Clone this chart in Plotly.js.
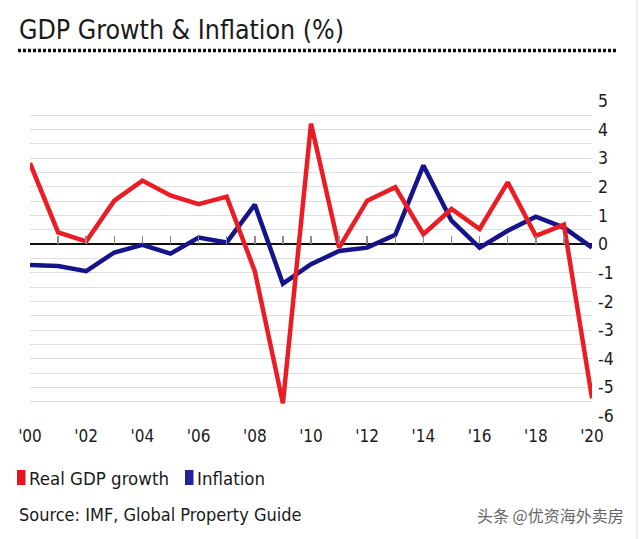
<!DOCTYPE html>
<html>
<head>
<meta charset="utf-8">
<script src="https://cdn.plot.ly/plotly-3.0.1.min.js"></script>
<style>html,body{margin:0;padding:0;background:#fff;}#chart{width:640px;height:539px;}</style>
</head>
<body>
<div id="chart"></div>
<script>
const years = [2000,2001,2002,2003,2004,2005,2006,2007,2008,2009,2010,2011,2012,2013,2014,2015,2016,2017,2018,2019,2020];
const gdpGrowth = [2.83,0.41,0.10,1.52,2.22,1.70,1.40,1.66,-0.94,-5.56,4.21,-0.12,1.52,1.99,0.35,1.23,0.53,2.16,0.29,0.68,-5.38];
const inflation = [-0.73,-0.76,-0.94,-0.29,-0.02,-0.33,0.23,0.06,1.38,-1.38,-0.70,-0.24,-0.12,0.33,2.75,0.82,-0.12,0.47,0.96,0.58,-0.12];
const xTickVals = [2000,2002,2004,2006,2008,2010,2012,2014,2016,2018,2020];
const xTickText = ["'00","'02","'04","'06","'08","'10","'12","'14","'16","'18","'20"];
const yTickVals = [5,4,3,2,1,0,-1,-2,-3,-4,-5,-6];
const yTickText = ["5","4","3","2","1","0","-1","-2","-3","-4","-5","-6"];

const FONT = "DejaVu Sans Condensed, DejaVu Sans, sans-serif";
const RED = '#ec1c24';
const BLUE = '#15148a';

const traces = [
  {x: years, y: inflation, type: 'scatter', mode: 'lines', name: 'Inflation',
   line: {color: BLUE, width: 4.5}, showlegend: false, hoverinfo: 'skip'},
  {x: years, y: gdpGrowth, type: 'scatter', mode: 'lines', name: 'Real GDP growth',
   line: {color: RED, width: 4.5}, showlegend: false, hoverinfo: 'skip'},
  {x: years, y: gdpGrowth, xaxis: 'x2', type: 'scatter', mode: 'lines',
   line: {width: 0}, opacity: 0, showlegend: false, hoverinfo: 'skip'}
];

const L = 30, R = 48, T = 101, B = 123;
const W = 640, H = 539;
const px = v => (v - L) / (W - L - R);
const py = v => (H - B - v) / (H - T - B);

const layout = {
  width: W, height: H,
  margin: {l: L, r: R, t: T, b: B},
  paper_bgcolor: '#ffffff',
  plot_bgcolor: '#ffffff',
  font: {family: FONT, color: '#1a1a1a'},
  xaxis: {
    range: [2000, 2020], tickvals: xTickVals, ticktext: xTickText,
    showgrid: false, zeroline: false, showline: false, ticks: '',
    tickfont: {size: 17, family: FONT, color: '#1a1a1a'},
    ticklabelstandoff: 8, fixedrange: true
  },
  xaxis2: {
    overlaying: 'x', anchor: 'free', position: 6/11, side: 'bottom',
    range: [2000, 2020], dtick: 1, tick0: 2000,
    ticks: 'inside', ticklen: 8, tickwidth: 1.5, tickcolor: '#8a8a8a',
    showticklabels: false, showgrid: false, zeroline: false, showline: false
  },
  yaxis: {
    range: [-6, 5], side: 'right', tickvals: yTickVals, ticktext: yTickText,
    showgrid: true, gridcolor: '#dedede', gridwidth: 1,
    minor: {dtick: 0.5, tick0: 0, showgrid: true, gridcolor: '#dedede', gridwidth: 1},
    zeroline: true, zerolinecolor: '#111111', zerolinewidth: 2,
    showline: false, ticks: '',
    tickfont: {size: 17.5, family: FONT, color: '#1a1a1a'},
    ticklabelstandoff: 5, fixedrange: true
  },
  shapes: [
    {type: 'line', xref: 'paper', yref: 'paper', x0: px(18), x1: px(617), y0: py(50.5), y1: py(50.5),
     line: {color: '#111111', width: 3.5, dash: '3px,2px'}},
    {type: 'rect', xref: 'paper', yref: 'paper', x0: px(17), x1: px(25.5), y0: py(485), y1: py(470),
     fillcolor: '#e8141c', line: {width: 0}},
    {type: 'rect', xref: 'paper', yref: 'paper', x0: px(185), x1: px(193.5), y0: py(485), y1: py(470),
     fillcolor: '#23239a', line: {width: 0}},
    {type: 'line', xref: 'paper', yref: 'paper', x0: px(637), x1: px(637), y0: py(0), y1: py(539),
     line: {color: '#dcdcdc', width: 1}}
  ],
  annotations: [
    {text: 'GDP Growth &amp; Inflation (%)', xref: 'paper', yref: 'paper', x: px(17), y: py(30),
     xanchor: 'left', yanchor: 'middle', showarrow: false,
     font: {size: 26.5, family: FONT, color: '#1a1a1a'}},
    {text: 'Real GDP growth', xref: 'paper', yref: 'paper', x: px(27), y: py(478),
     xanchor: 'left', yanchor: 'middle', showarrow: false,
     font: {size: 18.5, family: FONT, color: '#1a1a1a'}},
    {text: 'Inflation', xref: 'paper', yref: 'paper', x: px(195), y: py(478),
     xanchor: 'left', yanchor: 'middle', showarrow: false,
     font: {size: 18.5, family: FONT, color: '#1a1a1a'}},
    {text: 'Source: IMF, Global Property Guide', xref: 'paper', yref: 'paper', x: px(17), y: py(514),
     xanchor: 'left', yanchor: 'middle', showarrow: false,
     font: {size: 18, family: FONT, color: '#1a1a1a'}},
    {text: '头条 @优资海外卖房', xref: 'paper', yref: 'paper', x: px(626), y: py(515),
     xanchor: 'right', yanchor: 'middle', showarrow: false,
     font: {size: 16, family: 'Noto Sans CJK SC, sans-serif', color: '#666666'}}
  ]
};

Plotly.newPlot('chart', traces, layout, {displayModeBar: false, staticPlot: true});
</script>
</body>
</html>
